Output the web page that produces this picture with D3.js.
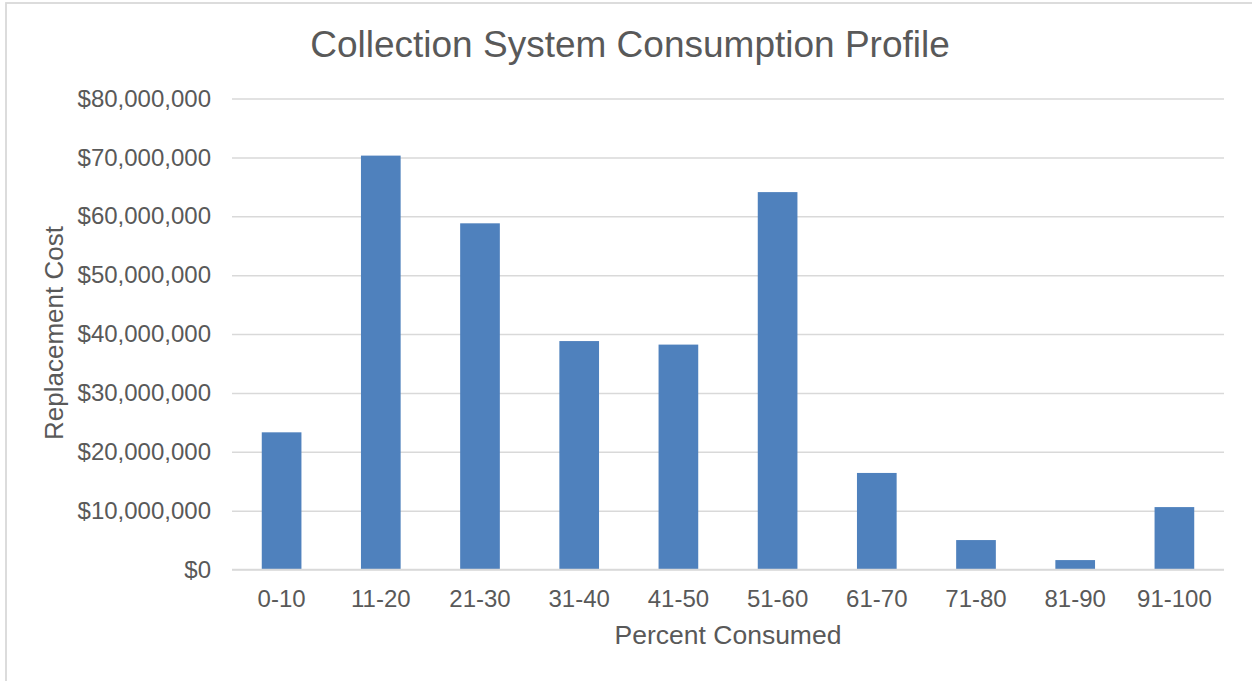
<!DOCTYPE html>
<html>
<head>
<meta charset="utf-8">
<script src="https://cdn.jsdelivr.net/npm/d3@7"></script>
<style>
  html, body { margin: 0; padding: 0; background: #fff; }
  svg { display: block; font-family: "Liberation Sans", Arial, sans-serif; }
</style>
</head>
<body>
<svg id="chart" width="1252" height="681"></svg>
<script>
// Replacement cost by percent-consumed band
const categories = ["0-10", "11-20", "21-30", "31-40", "41-50", "51-60", "61-70", "71-80", "81-90", "91-100"];
const replacementCost = [23300000, 70300000, 58800000, 38800000, 38200000, 64100000, 16400000, 5000000, 1600000, 10600000];
const yTicks = [0, 10000000, 20000000, 30000000, 40000000, 50000000, 60000000, 70000000, 80000000];

const svg = d3.select("#chart");
const W = 1252, H = 681;
const plot = { left: 232, right: 1224, top: 98.5, bottom: 569.5 };
const textColor = "#595959";

// outer chart frame (runs off the right and bottom edges)
svg.append("rect")
  .attr("x", 6).attr("y", 3)
  .attr("width", W + 20).attr("height", H + 20)
  .attr("fill", "#fff").attr("stroke", "#d9d9d9").attr("stroke-width", 1.8);

const x = d3.scaleBand()
  .domain(categories)
  .range([plot.left, plot.right])
  .paddingInner(0.6)
  .paddingOuter(0.3);

const y = d3.scaleLinear()
  .domain([0, 80000000])
  .range([plot.bottom, plot.top]);

const fmt = v => "$" + d3.format(",")(v);

// horizontal gridlines + y-axis labels
const yAxis = d3.axisLeft(y)
  .tickValues(yTicks)
  .tickFormat(fmt)
  .tickSize(-(plot.right - plot.left))
  .tickPadding(21);

const gy = svg.append("g")
  .attr("transform", `translate(${plot.left},0)`)
  .call(yAxis);
gy.select(".domain").remove();
gy.selectAll(".tick line").attr("stroke", "#d9d9d9").attr("stroke-width", 1.5);
gy.selectAll(".tick text")
  .attr("fill", textColor)
  .style("font-size", "24px");

// bars
svg.append("g")
  .selectAll("rect")
  .data(categories)
  .join("rect")
  .attr("x", d => x(d))
  .attr("width", x.bandwidth())
  .attr("y", (d, i) => y(replacementCost[i]))
  .attr("height", (d, i) => y(0) - y(replacementCost[i]))
  .attr("fill", "#4f81bd");

// baseline
svg.append("line")
  .attr("x1", plot.left).attr("x2", plot.right)
  .attr("y1", y(0)).attr("y2", y(0))
  .attr("stroke", "#d9d9d9").attr("stroke-width", 1.5);

// category axis labels
const xAxis = d3.axisBottom(x).tickSize(0).tickPadding(20);
const gx = svg.append("g")
  .attr("transform", `translate(0,${plot.bottom})`)
  .call(xAxis);
gx.select(".domain").remove();
gx.selectAll(".tick text")
  .attr("fill", textColor)
  .style("font-size", "24px");

// chart title
svg.append("text")
  .attr("x", 630).attr("y", 57)
  .attr("text-anchor", "middle")
  .attr("fill", textColor)
  .style("font-size", "37px")
  .text("Collection System Consumption Profile");

// axis titles
svg.append("text")
  .attr("x", 728).attr("y", 644)
  .attr("text-anchor", "middle")
  .attr("fill", textColor)
  .style("font-size", "26.5px")
  .text("Percent Consumed");

svg.append("text")
  .attr("transform", "translate(63,333) rotate(-90)")
  .attr("text-anchor", "middle")
  .attr("fill", textColor)
  .style("font-size", "26px")
  .text("Replacement Cost");
</script>
</body>
</html>
